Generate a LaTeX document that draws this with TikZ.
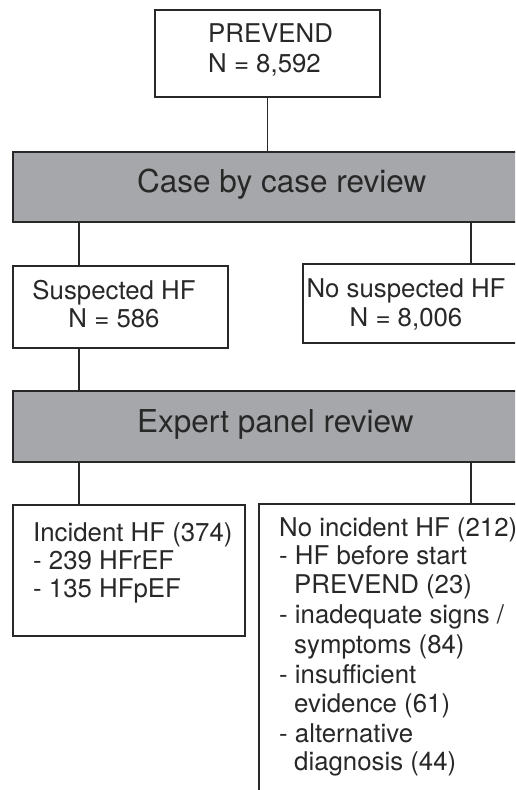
\documentclass[tikz,border=0pt]{standalone}
\usepackage{fontspec}
\setmainfont{TeX Gyre Heros}
\definecolor{txt}{RGB}{40,40,40}
\definecolor{linec}{RGB}{40,40,40}
\definecolor{hdrfill}{RGB}{166,167,170}
\begin{document}
\begin{tikzpicture}[x=1pt,y=-1pt,
  box/.style={draw=linec, line width=1.6pt, fill=white, inner sep=0pt, anchor=north west},
  hdr/.style={draw=linec, line width=1.8pt, fill=hdrfill, inner sep=0pt, anchor=north west},
  conn/.style={draw=linec, line width=1.6pt},
  tl/.style={text=txt, inner sep=0pt, anchor=base west, font=\fontsize{25.8}{29}\selectfont},
  tc/.style={text=txt, inner sep=0pt, anchor=base, font=\fontsize{25.8}{29}\selectfont},
  th/.style={text=txt, inner sep=0pt, anchor=base west, font=\fontsize{31.5}{36}\selectfont}]
\clip (0,0) rectangle (515,790);
\fill[white] (0,0) rectangle (515,790);
% boxes
\node[box, minimum width=225pt, minimum height=87pt] (prev) at (154,9) {};
\node[hdr, minimum width=530pt, minimum height=70pt] (case) at (12,151) {};
\node[box, minimum width=215pt, minimum height=82pt] (susp) at (12,265) {};
\node[box, minimum width=240pt, minimum height=79pt] (nosusp) at (302,263) {};
\node[hdr, minimum width=530pt, minimum height=71pt] (expert) at (12,390) {};
\node[box, minimum width=232pt, minimum height=131pt] (inc) at (12,504) {};
\node[box, minimum width=290pt, minimum height=300pt] (noinc) at (258,503) {};
% connector columns
\coordinate (lx) at (79,0);
\coordinate (rx) at (471,0);
\draw[conn] (prev.south) -- (case.north -| prev.south);
\draw[conn] (case.south -| lx) -- (susp.north -| lx);
\draw[conn] (case.south -| rx) -- (nosusp.north -| rx);
\draw[conn] (susp.south -| lx) -- (expert.north -| lx);
\draw[conn] (expert.south -| lx) -- (inc.north -| lx);
\draw[conn] (expert.south -| rx) -- (noinc.north -| rx);
% texts
\node[tl] (t1) at (208,42) {PREVEND};
\node[tl] (t2) at (208,72) {N = 8,592};
\node[th] (t3) at (137,192) {Case by case review};
\node[tc] (t4) at (114,299) {Suspected HF};
\node[tc] (t5) at (114,327) {N = 586};
\node[tc] (t6) at (406,297) {No suspected HF};
\node[tc] (t7) at (406,326) {N = 8,006};
\node[th] (t8) at (137,432) {Expert panel review};
\node[tl] (t9) at (33,541) {Incident HF (374)};
\node[tl] (t10) at (33,569) {- 239 HFrEF};
\node[tl] (t11) at (33,597) {- 135 HFpEF};
\node[tl] (u1) at (279,536) {No incident HF (212)};
\node[tl] (u2) at (279,564) {- HF before start};
\node[tl] (u3) at (294,593) {PREVEND (23)};
\node[tl] (u4) at (279,623) {- inadequate signs /};
\node[tl] (u5) at (294,653) {symptoms (84)};
\node[tl] (u6) at (279,683) {- insufficient};
\node[tl] (u7) at (294,712) {evidence (61)};
\node[tl] (u8) at (279,742) {- alternative};
\node[tl] (u9) at (294,770) {diagnosis (44)};
\end{tikzpicture}
\end{document}
